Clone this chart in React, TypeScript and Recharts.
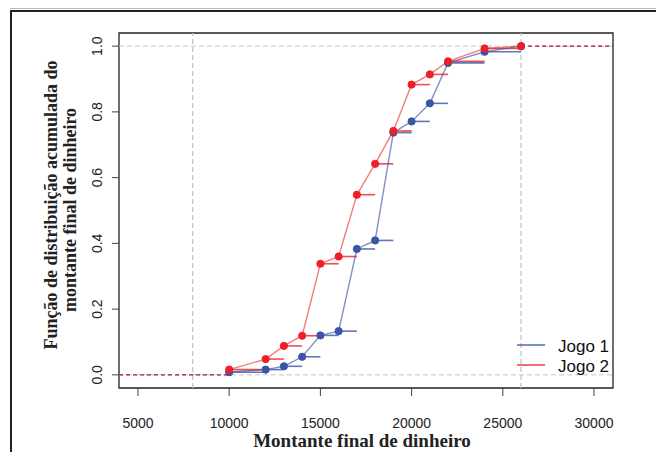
import React from "react"
import {
  ComposedChart,
  Line,
  XAxis,
  YAxis,
  ReferenceLine,
  ReferenceArea,
} from "recharts"

// montante final (x) e FDA empírica de cada jogo
const montantes = [10000, 12000, 13000, 14000, 15000, 16000, 17000, 18000, 19000, 20000, 21000, 22000, 24000, 26000]
const jogo1 = [0.008, 0.016, 0.026, 0.055, 0.12, 0.133, 0.383, 0.409, 0.737, 0.771, 0.826, 0.949, 0.983, 1.0]
const jogo2 = [0.016, 0.048, 0.088, 0.119, 0.338, 0.36, 0.548, 0.642, 0.742, 0.883, 0.914, 0.954, 0.993, 1.0]
const xTicks = [5000, 10000, 15000, 20000, 25000, 30000]
const yTicks = [0, 0.2, 0.4, 0.6, 0.8, 1.0]
const guideX = [8000, 26000]
const guideY = [0, 1]
const legendItems = ["Jogo 1", "Jogo 2"]

const X_DOMAIN: [number, number] = [3960, 31040]
const Y_DOMAIN: [number, number] = [-0.04, 1.04]

const BLUE = "#3a54a6"
const RED = "#ee1f27"
const SANS = "'Liberation Sans', Arial, sans-serif"
const SERIF = "'Liberation Serif', 'Times New Roman', serif"

const data = montantes.map((x, i) => ({ x, jogo1: jogo1[i], jogo2: jogo2[i] }))

function XTick({ x, y, payload }: any) {
  return (
    <text x={x} y={y} dy={30} textAnchor="middle" fontSize={14} fill="#222" fontFamily={SANS}>
      {payload.value}
    </text>
  )
}

function YTick({ x, y, payload }: any) {
  return (
    <text
      transform={`translate(${x - 8}, ${y}) rotate(-90)`}
      textAnchor="middle"
      fontSize={14}
      fill="#222"
      fontFamily={SANS}
    >
      {payload.value.toFixed(1)}
    </text>
  )
}

function LegendBox() {
  const colors = [BLUE, RED]
  return (
    <svg width={100} height={44} style={{ position: "absolute", left: 515, top: 335 }}>
      {legendItems.map((name, i) => (
        <g key={name}>
          <line x1={2} x2={30} y1={10 + i * 20} y2={10 + i * 20} stroke={colors[i]} strokeWidth={1.3} />
          <text x={43} y={17 + i * 20} fontSize={17} fill="#111" fontFamily={SANS}>
            {name}
          </text>
        </g>
      ))}
    </svg>
  )
}

function steps(values: number[], color: string) {
  return values.slice(0, -1).map((v, i) => (
    <ReferenceLine
      key={`${color}-${i}`}
      segment={[
        { x: montantes[i], y: v },
        { x: montantes[i + 1], y: v },
      ]}
      stroke={color}
      strokeWidth={1.6}
      strokeOpacity={0.8}
      ifOverflow="visible"
    />
  ))
}

function tails(values: number[], color: string) {
  const last = montantes.length - 1
  return [
    <ReferenceLine
      key={`${color}-lo`}
      segment={[
        { x: X_DOMAIN[0], y: 0 },
        { x: montantes[0], y: 0 },
      ]}
      stroke={color}
      strokeDasharray="4 3"
      strokeWidth={1}
      ifOverflow="visible"
    />,
    <ReferenceLine
      key={`${color}-hi`}
      segment={[
        { x: montantes[last], y: values[last] },
        { x: X_DOMAIN[1], y: values[last] },
      ]}
      stroke={color}
      strokeDasharray="4 3"
      strokeWidth={1}
      ifOverflow="visible"
    />,
  ]
}

export default function App() {
  return (
    <div style={{ position: "absolute", left: 0, top: 0, width: 656, height: 452, background: "#fff", overflow: "hidden" }}>
      {/* moldura da figura */}
      <div style={{ position: "absolute", left: 10, top: 8, right: 0, height: 1, background: "#bbb" }} />
      <div style={{ position: "absolute", left: 10, top: 10, right: 0, height: 2, background: "#222" }} />
      <div style={{ position: "absolute", left: 10, top: 10, bottom: 0, width: 2, background: "#222" }} />
      <ComposedChart
        width={656}
        height={452}
        data={data}
        margin={{ top: 33, right: 43, bottom: 34, left: 89 }}
        style={{ position: "absolute", left: 0, top: 0 }}
      >
        <XAxis
          dataKey="x"
          type="number"
          domain={X_DOMAIN}
          ticks={xTicks}
          allowDataOverflow
          axisLine={false}
          tickLine={{ stroke: "#444" }}
          tickSize={8}
          height={30}
          tick={<XTick />}
          label={{
            content: () => (
              <text x={362} y={447} textAnchor="middle" fontSize={19} fontWeight="bold" fill="#222" fontFamily={SERIF}>
                Montante final de dinheiro
              </text>
            ),
          }}
        />
        <YAxis
          type="number"
          domain={Y_DOMAIN}
          ticks={yTicks}
          allowDataOverflow
          axisLine={false}
          tickLine={{ stroke: "#444" }}
          tickSize={7}
          width={30}
          tick={<YTick />}
          label={{
            content: () => (
              <g fontSize={18} fontWeight="bold" fill="#222" fontFamily={SERIF} textAnchor="middle">
                <text transform="translate(57, 205) rotate(-90)">Função de distribuição acumulada do</text>
                <text transform="translate(76, 210) rotate(-90)">montante final de dinheiro</text>
              </g>
            ),
          }}
        />
        {guideY.map((v) => (
          <ReferenceLine key={`gy${v}`} y={v} stroke="#c4c4c4" strokeDasharray="5 3" strokeWidth={1} />
        ))}
        {guideX.map((v) => (
          <ReferenceLine key={`gx${v}`} x={v} stroke="#c4c4c4" strokeDasharray="5 3" strokeWidth={1.3} />
        ))}
        {tails(jogo1, BLUE)}
        {steps(jogo1, BLUE)}
        {tails(jogo2, RED)}
        {steps(jogo2, RED)}
        <Line
          dataKey="jogo1"
          name="Jogo 1"
          stroke={BLUE}
          strokeOpacity={0.65}
          strokeWidth={1.4}
          dot={{ r: 3.6, fill: BLUE, stroke: BLUE, strokeOpacity: 1, strokeWidth: 1 }}
          isAnimationActive={false}
        />
        <Line
          dataKey="jogo2"
          name="Jogo 2"
          stroke={RED}
          strokeOpacity={0.6}
          strokeWidth={1.4}
          dot={{ r: 3.6, fill: RED, stroke: RED, strokeOpacity: 1, strokeWidth: 1 }}
          isAnimationActive={false}
        />
        <ReferenceArea
          x1={X_DOMAIN[0]}
          x2={X_DOMAIN[1]}
          y1={Y_DOMAIN[0]}
          y2={Y_DOMAIN[1]}
          fill="none"
          stroke="#222"
          strokeWidth={1.3}
          ifOverflow="visible"
        />
      </ComposedChart>
      <LegendBox />
    </div>
  )
}
